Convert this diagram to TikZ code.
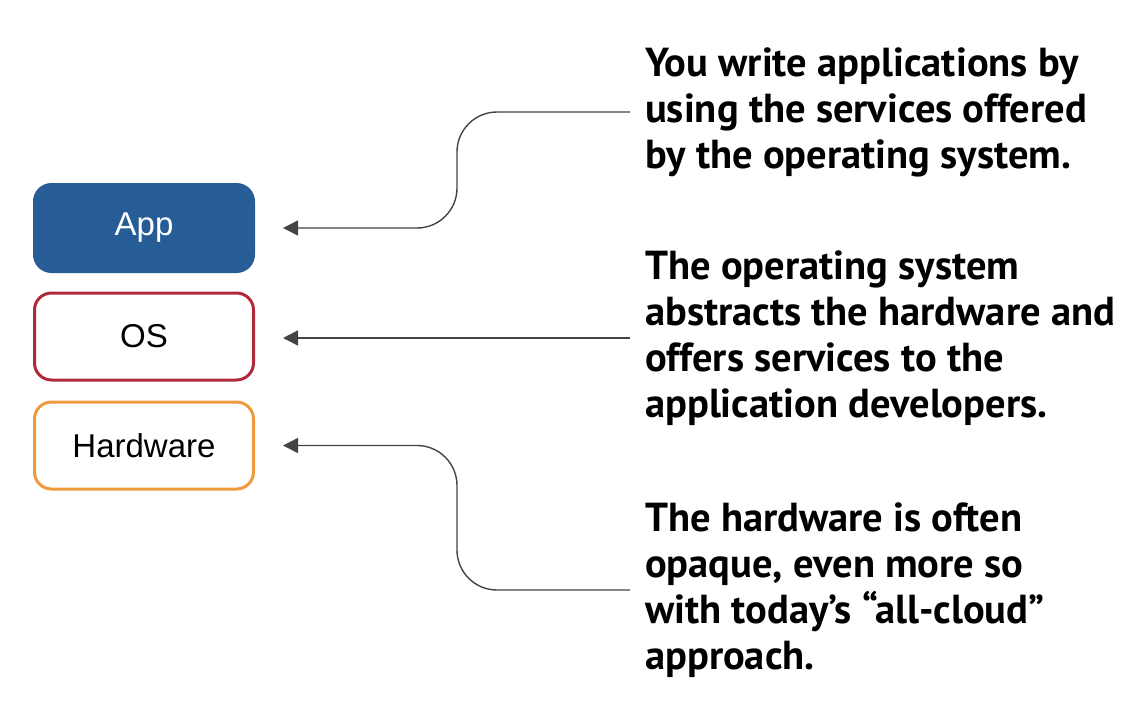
\documentclass[tikz,border=0pt]{standalone}
\usepackage{fontspec}
\setmainfont{Liberation Sans}
\newfontfamily\notefont{PT Sans}
\usetikzlibrary{arrows.meta}
\definecolor{appblue}{HTML}{265D97}
\definecolor{osred}{HTML}{B02A3C}
\definecolor{hwgold}{HTML}{F09A3E}
\definecolor{linkgray}{HTML}{444444}
\begin{document}
\begin{tikzpicture}[x=1pt,y=-1pt,
  layer/.style={rounded corners=17pt,line width=3pt,minimum width=219pt,minimum height=87pt,
    font=\fontsize{33}{38}\selectfont},
  note/.style={anchor=west,align=left,inner xsep=15pt,inner ysep=0pt,
    font=\notefont\bfseries\fontsize{40.5}{46}\selectfont},
  link/.style={linkgray,line width=1.4pt,rounded corners=40pt,
    -{Triangle[length=15pt,width=15pt]},shorten >=28pt}]
  \useasboundingbox (0,0) rectangle (1122,723);
  % the three layers
  \node[layer,fill=appblue,draw=appblue,text=white] (app) at (144,228) {App};
  \node[layer,draw=osred] (os) at (144,336.5) {OS};
  \node[layer,draw=hwgold] (hw) at (144,445.5) {Hardware};
  % notes on the right
  \node[note] (noteapp) at (630,112) {You write applications by\\using the services offered\\by the operating system.};
  \node[note] (noteos) at (630,338) {The operating system\\abstracts the hardware and\\offers services to the\\application developers.};
  \node[note] (notehw) at (630,590) {The hardware is often\\opaque, even more so\\with today’s “all-cloud”\\approach.};
  \coordinate (bendx) at (457,0);
  \draw[link] (noteapp.west) -- (noteapp.west -| bendx) -- (app.east -| bendx) -- (app.east);
  \draw[link] (noteos.west) -- (noteos.west -| os.east);
  \draw[link] (notehw.west) -- (notehw.west -| bendx) -- (hw.east -| bendx) -- (hw.east);
\end{tikzpicture}
\end{document}
